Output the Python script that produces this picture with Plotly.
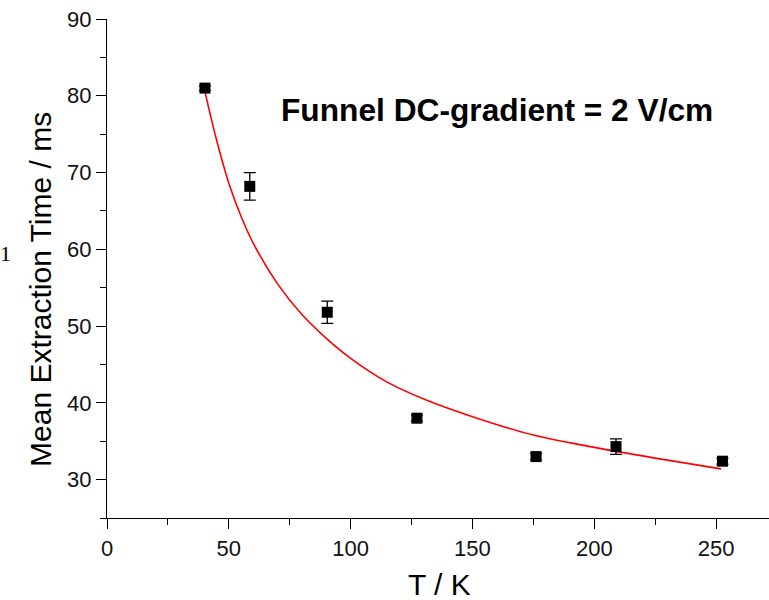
import plotly.graph_objects as go

temperature_K = [40.2, 58.6, 90.4, 127.2, 176.1, 208.9, 252.6]
extraction_ms = [81.0, 68.2, 51.8, 38.0, 33.0, 34.3, 32.4]
extraction_err = [0.3, 1.8, 1.45, 0.4, 0.4, 1.0, 0.4]

# Fit curve
fit_T = [40, 45, 50, 55, 60, 70, 80, 90, 100, 115, 130, 150, 175, 200, 225, 252]
fit_ms = [80.8, 74.2, 68.6, 64.3, 60.8, 55.5, 51.5, 48.4, 45.8, 42.7, 40.5, 38.2, 35.8, 34.2, 32.8, 31.4]

x_ticks = [0, 50, 100, 150, 200, 250]
y_ticks = [30, 40, 50, 60, 70, 80, 90]
x_range = [0, 271.7]
y_range = [25, 90]

FONT = "Arial, Liberation Sans, sans-serif"

fig = go.Figure()
fig.add_trace(go.Scatter(
    x=fit_T, y=fit_ms, mode="lines",
    line=dict(color="#ff0000", width=1.6, shape="spline", smoothing=1.0),
    showlegend=False, hoverinfo="skip"))
fig.add_trace(go.Scatter(
    x=temperature_K, y=extraction_ms, mode="markers",
    marker=dict(symbol="square", size=11, color="black"),
    error_y=dict(type="data", array=extraction_err, color="black", thickness=1.3, width=6),
    showlegend=False))

axis_common = dict(showgrid=False, zeroline=False, linecolor="black", linewidth=1.3,
                   tickcolor="black", tickwidth=1.3)

fig.update_layout(
    width=769, height=600,
    margin=dict(l=107, r=0, t=19, b=82),
    paper_bgcolor="white", plot_bgcolor="white",
    font=dict(family=FONT, color="black"),
    xaxis=dict(range=x_range, tickvals=x_ticks, ticks="outside", ticklen=10,
               showline=True, tickfont=dict(size=22, color="#111"),
               minor=dict(dtick=25, tick0=0, ticks="outside", ticklen=6,
                          tickcolor="black", tickwidth=1.3),
               **axis_common),
    yaxis=dict(range=y_range, tickvals=y_ticks, ticks="outside", ticklen=10,
               showline=True, tickfont=dict(size=22, color="#111"),
               minor=dict(dtick=5, tick0=0, ticks="outside", ticklen=6,
                          tickcolor="black", tickwidth=1.3),
               **axis_common),
    xaxis2=dict(range=x_range, overlaying="x", side="top", anchor="y",
                tickvals=x_ticks, ticks="inside", ticklen=11, showticklabels=False,
                showline=True,
                minor=dict(dtick=25, tick0=0, ticks="inside", ticklen=7,
                           tickcolor="black", tickwidth=1.3),
                **axis_common),
    yaxis2=dict(range=y_range, overlaying="y", side="right", anchor="x",
                tickvals=y_ticks, ticks="inside", ticklen=3, showticklabels=False,
                showline=False, showgrid=False, zeroline=False,
                tickcolor="black", tickwidth=1.3),
    annotations=[
        dict(text="<b>Funnel DC-gradient = 2 V/cm</b>", xref="paper", yref="paper",
             x=0.260, y=0.818, xanchor="left", yanchor="middle", showarrow=False,
             font=dict(size=31.7, family=FONT, color="black")),
        dict(text="Mean Extraction Time / ms", xref="paper", yref="paper",
             x=-0.0997, y=0.459, xanchor="center", yanchor="middle", textangle=-90,
             showarrow=False, font=dict(size=30, family=FONT, color="black")),
        dict(text="T / K", xref="paper", yref="paper",
             x=0.503, y=-0.133, xanchor="center", yanchor="middle",
             showarrow=False, font=dict(size=30, family=FONT, color="black")),
        dict(text="1", xref="paper", yref="paper",
             x=-0.153, y=0.53, xanchor="center", yanchor="middle",
             showarrow=False, font=dict(size=22, family="Liberation Serif, Times New Roman, serif",
                                        color="black")),
    ],
)

fig.write_html("out.html")
